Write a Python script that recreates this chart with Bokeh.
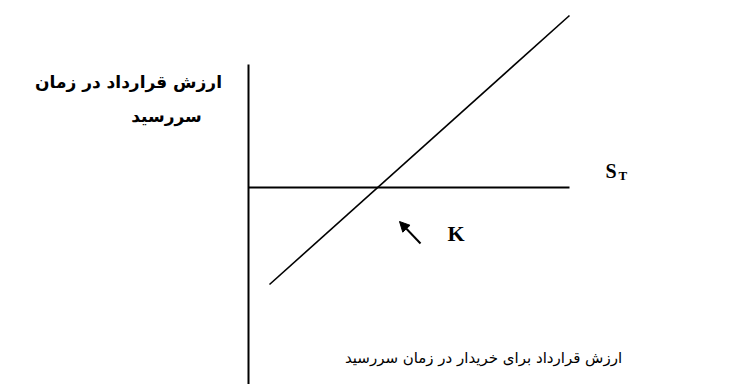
from bokeh.plotting import figure
from bokeh.models import Range1d, Arrow, NormalHead
from bokeh.core.properties import value
from bokeh.embed import file_html
from bokeh.resources import INLINE

# ---- data (diagram units; origin where the value axis meets the S_T line) ----
value_axis_x = [0, 0]
value_axis_y = [123, -210]
st_axis_x = [0, 321]
st_axis_y = [0, 0]
payoff_x = [21, 321]
payoff_y = [-97, 172]
k_arrow_start = [172, -56]
k_arrow_end = [151, -34]

title_lines = ["ارزش قرارداد در زمان", "سررسید"]
title_x = [-120, -82]
title_y = [106, 72]
bottom_label = ["ارزش قرارداد برای خریدار در زمان سررسید"]
bottom_x = [235]
bottom_y = [-170]
k_label = ["K"]
k_x = [199]
k_y = [-46]
s_label = ["S"]
s_x = [357]
s_y = [17]
t_label = ["T"]
t_x = [370]
t_y = [12]

p = figure(width=742, height=384, output_backend="svg", toolbar_location=None,
           x_range=Range1d(-248, 494), y_range=Range1d(-197, 187),
           min_border=0, outline_line_color=None, background_fill_color="white")
p.xaxis.visible = False
p.yaxis.visible = False
p.grid.visible = False

p.line(value_axis_x, value_axis_y, line_color="black", line_width=2)
p.line(st_axis_x, st_axis_y, line_color="black", line_width=2)
p.line(payoff_x, payoff_y, line_color="black", line_width=1.6)

p.add_layout(Arrow(end=NormalHead(size=10, fill_color="black", line_color="black", line_width=1),
                   x_start=k_arrow_start[0], y_start=k_arrow_start[1],
                   x_end=k_arrow_end[0], y_end=k_arrow_end[1],
                   line_color="black", line_width=2))

p.text(x=title_x, y=title_y, text=title_lines, text_font=value("DejaVu Sans"),
       text_font_size="17px", text_font_style="bold", text_align="center",
       text_baseline="middle", text_color="black")
p.text(x=bottom_x, y=bottom_y, text=bottom_label, text_font=value("DejaVu Sans"),
       text_font_size="15px", text_align="center", text_baseline="middle", text_color="black")
p.text(x=k_x, y=k_y, text=k_label, text_font=value("Liberation Serif"),
       text_font_size="22px", text_font_style="bold", text_align="left",
       text_baseline="middle", text_color="black")
p.text(x=s_x, y=s_y, text=s_label, text_font=value("Liberation Serif"),
       text_font_size="20px", text_font_style="bold", text_align="left",
       text_baseline="middle", text_color="black")
p.text(x=t_x, y=t_y, text=t_label, text_font=value("Liberation Serif"),
       text_font_size="13px", text_font_style="bold", text_align="left",
       text_baseline="middle", text_color="black")

open("out.html", "w").write(file_html(p, INLINE))
